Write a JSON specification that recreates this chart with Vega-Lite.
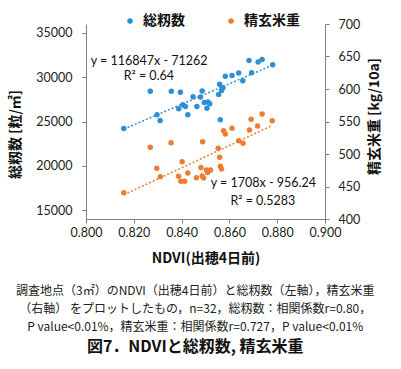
{
  "$schema": "https://vega.github.io/schema/vega-lite/v6.json",
  "width": 239,
  "height": 195,
  "autosize": "none",
  "padding": {"left": 86, "top": 24, "right": 76, "bottom": 150},
  "background": "white",
  "config": {
    "view": {"stroke": null},
    "font": "Noto Sans CJK JP",
    "axis": {
      "grid": false,
      "labelOverlap": false,
      "labelFlush": false,
      "domainColor": "#7f7f7f",
      "tickColor": "#7f7f7f",
      "tickSize": 4,
      "labelFont": "Lato",
      "labelFontSize": 12.5,
      "labelColor": "#222222",
      "titleFont": "Noto Sans CJK JP",
      "titleFontWeight": "bold",
      "titleFontSize": 14,
      "titleColor": "#111111"
    }
  },
  "title": {
    "text": [
      "調査地点（3㎡）のNDVI（出穂4日前）と総籾数（左軸），精玄米重",
      "（右軸） をプロットしたもの，n=32，総籾数：相関係数r=0.80，",
      "P value<0.01%，精玄米重：相関係数r=0.727，P value<0.01%"
    ],
    "orient": "bottom",
    "anchor": "middle",
    "frame": "bounds",
    "font": "Noto Sans CJK JP",
    "fontSize": 12,
    "fontWeight": "normal",
    "lineHeight": 18,
    "color": "#222222",
    "offset": 20,
    "subtitle": "図7．NDVIと総籾数, 精玄米重",
    "subtitleFont": "Noto Sans CJK JP",
    "subtitleFontSize": 16,
    "subtitleFontWeight": "bold",
    "subtitleColor": "#111111",
    "subtitlePadding": 5
  },
  "datasets": {
    "blue": [
      {"series": "総籾数", "ndvi": 0.8158, "value": 24200},
      {"series": "総籾数", "ndvi": 0.8269, "value": 28400},
      {"series": "総籾数", "ndvi": 0.8357, "value": 28400},
      {"series": "総籾数", "ndvi": 0.8395, "value": 28300},
      {"series": "総籾数", "ndvi": 0.8297, "value": 25750},
      {"series": "総籾数", "ndvi": 0.8310, "value": 25100},
      {"series": "総籾数", "ndvi": 0.8388, "value": 26450},
      {"series": "総籾数", "ndvi": 0.8405, "value": 26900},
      {"series": "総籾数", "ndvi": 0.8416, "value": 26700},
      {"series": "総籾数", "ndvi": 0.8426, "value": 25770},
      {"series": "総籾数", "ndvi": 0.8448, "value": 27790},
      {"series": "総籾数", "ndvi": 0.8464, "value": 26690},
      {"series": "総籾数", "ndvi": 0.8486, "value": 28440},
      {"series": "総籾数", "ndvi": 0.8479, "value": 27770},
      {"series": "総籾数", "ndvi": 0.8510, "value": 27200},
      {"series": "総籾数", "ndvi": 0.8518, "value": 27000},
      {"series": "総籾数", "ndvi": 0.8506, "value": 26490},
      {"series": "総籾数", "ndvi": 0.8495, "value": 27150},
      {"series": "総籾数", "ndvi": 0.8555, "value": 28060},
      {"series": "総籾数", "ndvi": 0.8559, "value": 29200},
      {"series": "総籾数", "ndvi": 0.8573, "value": 28800},
      {"series": "総籾数", "ndvi": 0.8567, "value": 28490},
      {"series": "総籾数", "ndvi": 0.8583, "value": 30110},
      {"series": "総籾数", "ndvi": 0.8611, "value": 30180},
      {"series": "総籾数", "ndvi": 0.8639, "value": 30460},
      {"series": "総籾数", "ndvi": 0.8656, "value": 29600},
      {"series": "総籾数", "ndvi": 0.8682, "value": 31890},
      {"series": "総籾数", "ndvi": 0.8693, "value": 30510},
      {"series": "総籾数", "ndvi": 0.8720, "value": 31720},
      {"series": "総籾数", "ndvi": 0.8737, "value": 32000},
      {"series": "総籾数", "ndvi": 0.8781, "value": 31410},
      {"series": "総籾数", "ndvi": 0.8562, "value": 25200}
    ],
    "orange": [
      {"series": "精玄米重", "ndvi": 0.8158, "value": 440.5},
      {"series": "精玄米重", "ndvi": 0.8269, "value": 510.3},
      {"series": "精玄米重", "ndvi": 0.8356, "value": 517.4},
      {"series": "精玄米重", "ndvi": 0.8488, "value": 518.9},
      {"series": "精玄米重", "ndvi": 0.8553, "value": 508.8},
      {"series": "精玄米重", "ndvi": 0.8576, "value": 535.8},
      {"series": "精玄米重", "ndvi": 0.8583, "value": 530.8},
      {"series": "精玄米重", "ndvi": 0.8611, "value": 539.5},
      {"series": "精玄米重", "ndvi": 0.8691, "value": 553.4},
      {"series": "精玄米重", "ndvi": 0.8737, "value": 561.5},
      {"series": "精玄米重", "ndvi": 0.8779, "value": 551.2},
      {"series": "精玄米重", "ndvi": 0.8718, "value": 543.1},
      {"series": "精玄米重", "ndvi": 0.8684, "value": 536.9},
      {"series": "精玄米重", "ndvi": 0.8639, "value": 520.5},
      {"series": "精玄米重", "ndvi": 0.8657, "value": 516.5},
      {"series": "精玄米重", "ndvi": 0.8559, "value": 494.9},
      {"series": "精玄米重", "ndvi": 0.8562, "value": 481.1},
      {"series": "精玄米重", "ndvi": 0.8567, "value": 476.9},
      {"series": "精玄米重", "ndvi": 0.8402, "value": 488.2},
      {"series": "精玄米重", "ndvi": 0.8296, "value": 478.0},
      {"series": "精玄米重", "ndvi": 0.8311, "value": 465.1},
      {"series": "精玄米重", "ndvi": 0.8387, "value": 465.7},
      {"series": "精玄米重", "ndvi": 0.8397, "value": 458.0},
      {"series": "精玄米重", "ndvi": 0.8413, "value": 458.0},
      {"series": "精玄米重", "ndvi": 0.8426, "value": 470.8},
      {"series": "精玄米重", "ndvi": 0.8462, "value": 463.5},
      {"series": "精玄米重", "ndvi": 0.8481, "value": 479.2},
      {"series": "精玄米重", "ndvi": 0.8492, "value": 463.1},
      {"series": "精玄米重", "ndvi": 0.8504, "value": 475.4},
      {"series": "精玄米重", "ndvi": 0.8521, "value": 475.4},
      {"series": "精玄米重", "ndvi": 0.8509, "value": 471.5},
      {"series": "精玄米重", "ndvi": 0.8486, "value": 466.2}
    ],
    "blueEq": [
      {"label": "y = 116847x - 71262", "ndvi": 0.8264, "value": 31820},
      {"label": "R² = 0.64", "ndvi": 0.8263, "value": 30110}
    ],
    "orangeEq": [
      {"label": "y = 1708x - 956.24", "ndvi": 0.8742, "value": 455},
      {"label": "R² = 0.5283", "ndvi": 0.8740, "value": 428}
    ]
  },
  "layer": [
    {
      "layer": [
        {
          "data": {"name": "blue"},
          "mark": {"type": "circle", "size": 30, "opacity": 1},
          "encoding": {
            "x": {"field": "ndvi", "type": "quantitative", "title": "NDVI(出穂4日前)",
              "scale": {"domain": [0.8, 0.9]},
              "axis": {"values": [0.8, 0.82, 0.84, 0.86, 0.88, 0.9], "format": ".3f", "labelPadding": 3, "titlePadding": 13}},
            "y": {"field": "value", "type": "quantitative", "title": "総籾数 [粒/㎡]",
              "scale": {"domain": [15000, 35000]},
              "axis": {"values": [15000, 20000, 25000, 30000, 35000], "format": "d", "labelPadding": 10, "titlePadding": 13, "titleY": 110}},
            "color": {"field": "series", "type": "nominal",
              "scale": {"domain": ["総籾数", "精玄米重"], "range": ["#2E8FD2", "#EE7D31"]},
              "legend": {"orient": "none", "legendX": 37, "legendY": -10, "direction": "horizontal", "title": null,
                "labelFont": "Noto Sans CJK JP", "labelFontSize": 14, "labelFontWeight": "bold", "labelColor": "#111111",
                "symbolType": "circle", "symbolSize": 30, "labelOffset": 6, "columnPadding": 39, "padding": 0}}
          }
        },
        {
          "data": {"name": "blue"},
          "transform": [{"regression": "value", "on": "ndvi"}],
          "mark": {"type": "line", "color": "#2E8FD2", "strokeDash": [2, 2], "strokeWidth": 1.5},
          "encoding": {
            "x": {"field": "ndvi", "type": "quantitative", "title": "NDVI(出穂4日前)",
              "axis": {"values": [0.8, 0.82, 0.84, 0.86, 0.88, 0.9], "format": ".3f", "labelPadding": 3, "titlePadding": 13}},
            "y": {"field": "value", "type": "quantitative", "title": "総籾数 [粒/㎡]",
              "axis": {"values": [15000, 20000, 25000, 30000, 35000], "format": "d", "labelPadding": 10, "titlePadding": 13, "titleY": 110}}
          }
        },
        {
          "data": {"name": "blueEq"},
          "mark": {"type": "text", "font": "Lato", "fontSize": 12.5, "color": "#111111"},
          "encoding": {
            "x": {"field": "ndvi", "type": "quantitative", "title": "NDVI(出穂4日前)",
              "axis": {"values": [0.8, 0.82, 0.84, 0.86, 0.88, 0.9], "format": ".3f", "labelPadding": 3, "titlePadding": 13}},
            "y": {"field": "value", "type": "quantitative", "title": "総籾数 [粒/㎡]",
              "axis": {"values": [15000, 20000, 25000, 30000, 35000], "format": "d", "labelPadding": 10, "titlePadding": 13, "titleY": 110}},
            "text": {"field": "label"}
          }
        }
      ]
    },
    {
      "layer": [
        {
          "data": {"name": "orange"},
          "mark": {"type": "circle", "size": 30, "opacity": 1},
          "encoding": {
            "x": {"field": "ndvi", "type": "quantitative", "title": "NDVI(出穂4日前)",
              "axis": {"values": [0.8, 0.82, 0.84, 0.86, 0.88, 0.9], "format": ".3f", "labelPadding": 3, "titlePadding": 13}},
            "y": {"field": "value", "type": "quantitative", "title": "精玄米重 [kg/10a]",
              "scale": {"domain": [400, 700]},
              "axis": {"orient": "right", "values": [400, 450, 500, 550, 600, 650, 700], "labelPadding": 9, "titlePadding": 8, "titleAngle": -90, "titleBaseline": "top", "titleY": 92}},
            "color": {"field": "series", "type": "nominal"}
          }
        },
        {
          "data": {"name": "orange"},
          "transform": [{"regression": "value", "on": "ndvi"}],
          "mark": {"type": "line", "color": "#EE7D31", "strokeDash": [2, 2], "strokeWidth": 1.5},
          "encoding": {
            "x": {"field": "ndvi", "type": "quantitative", "title": "NDVI(出穂4日前)",
              "axis": {"values": [0.8, 0.82, 0.84, 0.86, 0.88, 0.9], "format": ".3f", "labelPadding": 3, "titlePadding": 13}},
            "y": {"field": "value", "type": "quantitative", "title": "精玄米重 [kg/10a]",
              "axis": {"orient": "right", "values": [400, 450, 500, 550, 600, 650, 700], "labelPadding": 9, "titlePadding": 8, "titleAngle": -90, "titleBaseline": "top", "titleY": 92}}
          }
        },
        {
          "data": {"name": "orangeEq"},
          "mark": {"type": "text", "font": "Lato", "fontSize": 12.5, "color": "#111111"},
          "encoding": {
            "x": {"field": "ndvi", "type": "quantitative", "title": "NDVI(出穂4日前)",
              "axis": {"values": [0.8, 0.82, 0.84, 0.86, 0.88, 0.9], "format": ".3f", "labelPadding": 3, "titlePadding": 13}},
            "y": {"field": "value", "type": "quantitative", "title": "精玄米重 [kg/10a]",
              "axis": {"orient": "right", "values": [400, 450, 500, 550, 600, 650, 700], "labelPadding": 9, "titlePadding": 8, "titleAngle": -90, "titleBaseline": "top", "titleY": 92}},
            "text": {"field": "label"}
          }
        }
      ]
    }
  ],
  "resolve": {"scale": {"y": "independent"}}
}
